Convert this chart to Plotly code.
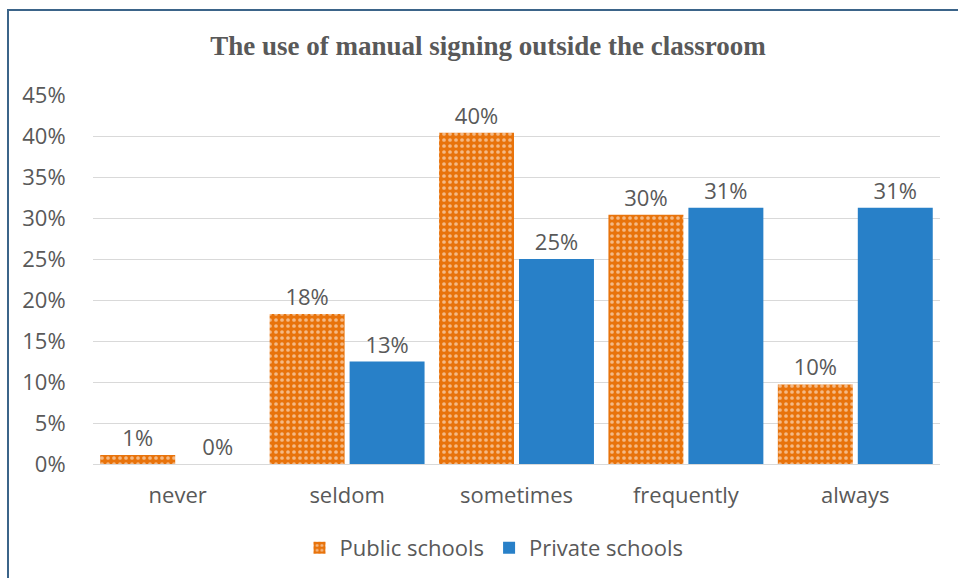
import plotly.graph_objects as go

categories = ["never", "seldom", "sometimes", "frequently", "always"]
public_schools = [0.011, 0.183, 0.404, 0.304, 0.097]
private_schools = [0.0, 0.125, 0.25, 0.3125, 0.3125]
y_ticks = [0, 0.05, 0.10, 0.15, 0.20, 0.25, 0.30, 0.35, 0.40, 0.45]
y_tick_labels = ["0%", "5%", "10%", "15%", "20%", "25%", "30%", "35%", "40%", "45%"]

W, H = 958, 578
L, R, T, B = 93, 18, 95, 114
pw, ph = W - L - R, H - T - B

def px_x(x):
    return (x - L) / pw

def px_y(y):
    return (H - B - y) / ph

grey = "#595959"
font_main = "Open Sans"
fs = 22

fig = go.Figure()
fig.add_trace(go.Bar(
    name="Public schools", x=categories, y=public_schools,
    marker=dict(color="#E8730B", line=dict(width=0),
                pattern=dict(shape=".", fgcolor="white", bgcolor="#E8730B",
                             size=6, solidity=0.3)),
    texttemplate="%{y:.0%}", textposition="outside",
    textfont=dict(size=fs, color=grey, family=font_main), cliponaxis=False,
))
fig.add_trace(go.Bar(
    name="Private schools", x=categories, y=private_schools,
    marker=dict(color="#2880C8", line=dict(width=0)),
    texttemplate="%{y:.0%}", textposition="outside",
    textfont=dict(size=fs, color=grey, family=font_main), cliponaxis=False,
))

fig.update_layout(
    width=W, height=H,
    margin=dict(l=L, r=R, t=T, b=B, autoexpand=False),
    paper_bgcolor="white", plot_bgcolor="white",
    barmode="group", bargap=0.056, bargroupgap=0.0625,
    font=dict(family=font_main, size=fs, color=grey),
    title=dict(text="<b>The use of manual signing outside the classroom</b>",
               x=488 / W, xref="container", xanchor="center",
               y=1 - 46 / H, yanchor="middle", yref="container",
               font=dict(family="Liberation Serif", size=27, color=grey)),
    xaxis=dict(showgrid=False, showline=False, ticks="outside", ticklen=12,
               tickcolor="rgba(0,0,0,0)", tickfont=dict(size=fs, color=grey)),
    yaxis=dict(range=[0, 0.45], tickvals=y_ticks, ticktext=y_tick_labels,
               showgrid=True, gridcolor="#D9D9D9", gridwidth=1,
               zeroline=True, zerolinecolor="#D9D9D9", zerolinewidth=1,
               ticks="outside", ticklen=22, tickcolor="rgba(0,0,0,0)",
               tickfont=dict(size=fs, color=grey)),
    legend=dict(orientation="h", x=px_x(494), xanchor="center",
                y=px_y(548), yanchor="middle",
                font=dict(size=fs, color=grey), itemwidth=30,
                traceorder="normal"),
    showlegend=True,
)

border = "#3B6489"
fig.add_shape(type="line", xref="paper", yref="paper",
              x0=px_x(8), x1=px_x(8), y0=px_y(10), y1=px_y(580),
              line=dict(color=border, width=2), layer="above")
fig.add_shape(type="line", xref="paper", yref="paper",
              x0=px_x(7), x1=px_x(960), y0=px_y(10), y1=px_y(10),
              line=dict(color=border, width=2), layer="above")

fig.write_html("out.html")
